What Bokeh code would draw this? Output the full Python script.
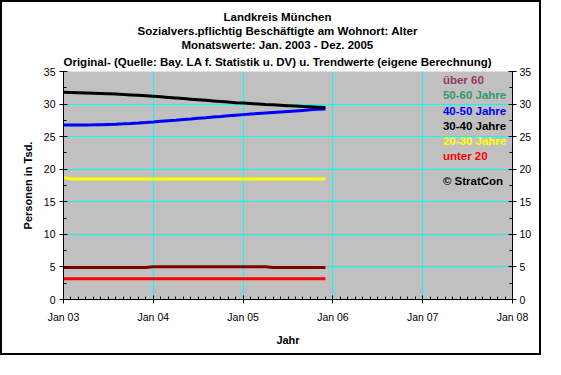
from bokeh.plotting import figure
from bokeh.models import (Range1d, FixedTicker, LinearAxis, Label, Title)
from bokeh.embed import file_html
from bokeh.resources import INLINE

# ---- data (months since Jan 2003) ----
months = list(range(36))

age_30_40 = [31.80, 31.77, 31.74, 31.71, 31.67, 31.63, 31.58, 31.53, 31.47, 31.41, 31.35, 31.28,
             31.20, 31.11, 31.02, 30.93, 30.84, 30.75, 30.66, 30.57, 30.48, 30.39, 30.30, 30.22,
             30.15, 30.08, 30.01, 29.94, 29.88, 29.82, 29.76, 29.70, 29.64, 29.58, 29.52, 29.46]

age_40_50 = [26.77, 26.77, 26.78, 26.79, 26.81, 26.84, 26.88, 26.92, 26.97, 27.03, 27.10, 27.18,
             27.26, 27.35, 27.44, 27.53, 27.63, 27.72, 27.82, 27.91, 28.01, 28.10, 28.20, 28.29,
             28.38, 28.47, 28.55, 28.63, 28.71, 28.79, 28.87, 28.95, 29.03, 29.11, 29.19, 29.26]

age_20_30 = [18.70] + [18.50] * 35

age_ueber_60 = [4.90] * 12 + [5.03] * 16 + [4.90] * 8

age_unter_20 = [3.20] * 36

x_tick_values = [0, 12, 24, 36, 48, 60]
x_tick_labels = ["Jan 03", "Jan 04", "Jan 05", "Jan 06", "Jan 07", "Jan 08"]
y_tick_values = [0, 5, 10, 15, 20, 25, 30, 35]

legend_labels = ["über 60", "50-60 Jahre", "40-50 Jahre", "30-40 Jahre", "20-30 Jahre", "unter 20"]
legend_colors = ["#993366", "#339966", "#0000FF", "#000000", "#FFFF00", "#FF0000"]

titles = ["Landkreis München",
          "Sozialvers.pflichtig Beschäftigte am Wohnort: Alter",
          "Monatswerte: Jan. 2003 - Dez. 2005",
          "Original- (Quelle: Bay. LA f. Statistik u. DV) u. Trendwerte (eigene Berechnung)"]

FONT = "Liberation Sans"

p = figure(width=541, height=355, output_backend="svg", toolbar_location=None,
           x_range=Range1d(0, 60), y_range=Range1d(0, 35),
           min_border_left=61, min_border_right=31, min_border_top=69, min_border_bottom=58,
           background_fill_color="#C0C0C0", border_fill_color="white",
           outline_line_color=None)
p.styles = {"border": "2px solid black"}

# titles: left-aligned with offsets so each line is centred at the same x as in the original
title_offsets = [160, 74, 118, 0]
title_standoffs = [0, 0, 0, 7]
for t, off, so in reversed(list(zip(titles, title_offsets, title_standoffs))):
    p.add_layout(Title(text=t, align="left", offset=off, standoff=so,
                       text_font=FONT, text_font_size="11.5px", text_font_style="bold",
                       text_color="black"), "above")

# grid
p.xgrid.ticker = FixedTicker(ticks=[12, 24, 36, 48])
p.ygrid.ticker = FixedTicker(ticks=[5, 10, 15, 20, 25, 30])
for g in (p.xgrid, p.ygrid):
    g.grid_line_color = "#00FFFF"
    g.grid_line_width = 1

# axes
xax = p.xaxis[0]
xax.ticker = FixedTicker(ticks=x_tick_values, minor_ticks=list(range(61)))
xax.major_label_overrides = {v: l for v, l in zip(x_tick_values, x_tick_labels)}
xax.axis_label = "Jahr"

yax = p.yaxis[0]
yax.ticker = FixedTicker(ticks=y_tick_values, minor_ticks=[i * 2.5 for i in range(15)])
yax.axis_label = "Personen in Tsd."

rax = LinearAxis(ticker=FixedTicker(ticks=y_tick_values, minor_ticks=[i * 2.5 for i in range(15)]))
p.add_layout(rax, "right")

for ax in (xax, yax, rax):
    ax.axis_line_color = "black"
    ax.axis_line_width = 1
    ax.major_tick_line_color = "black"
    ax.minor_tick_line_color = "black"
    ax.major_tick_in = 4
    ax.major_tick_out = 4
    ax.minor_tick_in = 3
    ax.minor_tick_out = 0
    ax.major_label_text_font = FONT
    ax.major_label_text_font_size = "10.5px"
    ax.major_label_text_color = "black"
    ax.axis_label_text_font = FONT
    ax.axis_label_text_font_size = "11px"
    ax.axis_label_text_font_style = "bold"
    ax.axis_label_text_color = "black"

xax.major_label_standoff = 7
xax.axis_label_standoff = 8
yax.major_label_standoff = 4
yax.axis_label_standoff = 7
rax.major_label_standoff = 3

# series
p.line(months, age_unter_20, line_color="#FF0000", line_width=3)
p.line(months, age_ueber_60, line_color="#800000", line_width=3)
p.line(months, age_20_30, line_color="#FFFF00", line_width=3)
p.line(months, age_40_50, line_color="#0000FF", line_width=3)
p.line(months, age_30_40, line_color="#000000", line_width=3)

# legend texts inside plot
legend_y = [33.77, 31.35, 29.0, 26.7, 24.4, 22.08]
for lab, col, yy in zip(legend_labels, legend_colors, legend_y):
    p.add_layout(Label(x=50.7, y=yy, text=lab, text_color=col, text_font=FONT,
                       text_font_size="11.5px", text_font_style="bold",
                       text_baseline="middle", text_align="left"))
p.add_layout(Label(x=50.7, y=18.12, text="© StratCon", text_color="black", text_font=FONT,
                   text_font_size="11.5px", text_font_style="bold",
                   text_baseline="middle", text_align="left"))

open("out.html", "w").write(file_html(p, INLINE))
